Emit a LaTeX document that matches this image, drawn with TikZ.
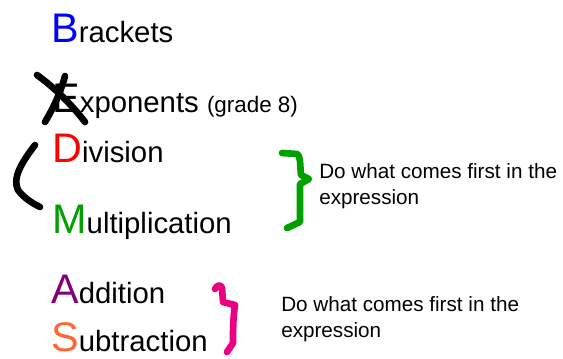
\documentclass[tikz,border=0pt]{standalone}
\usepackage{fontspec}
\setmainfont{Liberation Sans}
\definecolor{mgreen}{RGB}{0,160,0}
\definecolor{mpurple}{RGB}{128,0,128}
\definecolor{morange}{RGB}{255,102,51}
\definecolor{mpink}{RGB}{235,0,130}
\newcommand{\BracketsColor}{blue}
\newcommand{\DivisionColor}{red}
\newcommand{\MultiplyColor}{mgreen}
\newcommand{\AdditionColor}{mpurple}
\newcommand{\SubtractColor}{morange}
\newcommand{\Initial}[2]{{\fontsize{31}{31}\selectfont\color{#1}#2}}

\begin{document}
\begin{tikzpicture}[
	% pixel units, y down
	x=0.75pt, y=-0.75pt,
	word/.style={anchor=base west, inner sep=0pt, font=\fontsize{22}{26}\selectfont},
	note/.style={anchor=base west, inner sep=0pt, align=left, font=\fontsize{15.5}{19.5}\selectfont},
	pen/.style={line width=5pt, line cap=round, line join=round}
	]
	\useasboundingbox (0,0) rectangle (563,358);

	\draw (51,42) node[word] (Brackets) {\Initial{\BracketsColor}{B}rackets};
	\draw (52,112) node[word] (Exponents) {\Initial{black}{E}xponents {\fontsize{16.8}{20}\selectfont(grade 8)}};
	\draw (52,162) node[word] (Division) {\Initial{\DivisionColor}{D}ivision};
	\draw (52,233) node[word] (Multiplication) {\Initial{\MultiplyColor}{M}ultiplication};
	\draw (51,303) node[word] (Addition) {\Initial{\AdditionColor}{A}ddition};
	\draw (51,351) node[word] (Subtraction) {\Initial{\SubtractColor}{S}ubtraction};

	% base of a two line note is its last line
	\draw (319,204) node[note] (NoteMD) {Do what comes first in the\\expression};
	\draw (281,337) node[note] (NoteAS) {Do what comes first in the\\expression};

	% crossed out E
	\draw[pen] (37,75) .. controls (55,88) and (72,105) .. (85,122);
	\draw[pen] (65,76) .. controls (60,95) and (52,110) .. (45,122);
	% left bracket
	\draw[pen] (35,145) .. controls (22,162) and (12,178) .. (18,190) .. controls (24,198) and (32,203) .. (40,207);
	% braces
	\draw[pen, draw=mgreen] (282,153) -- (297,154) .. controls (301,156) and (300,168) .. (301,175)
		-- (309,179) -- (300,184) -- (300,222) -- (287,228);
	\draw[pen, draw=mpink] (215,289) .. controls (217,285) and (221,284) .. (222,288) -- (223,302) -- (235,305)
		.. controls (233,318) and (233,332) .. (233,343) -- (227,352);
\end{tikzpicture}
\end{document}
